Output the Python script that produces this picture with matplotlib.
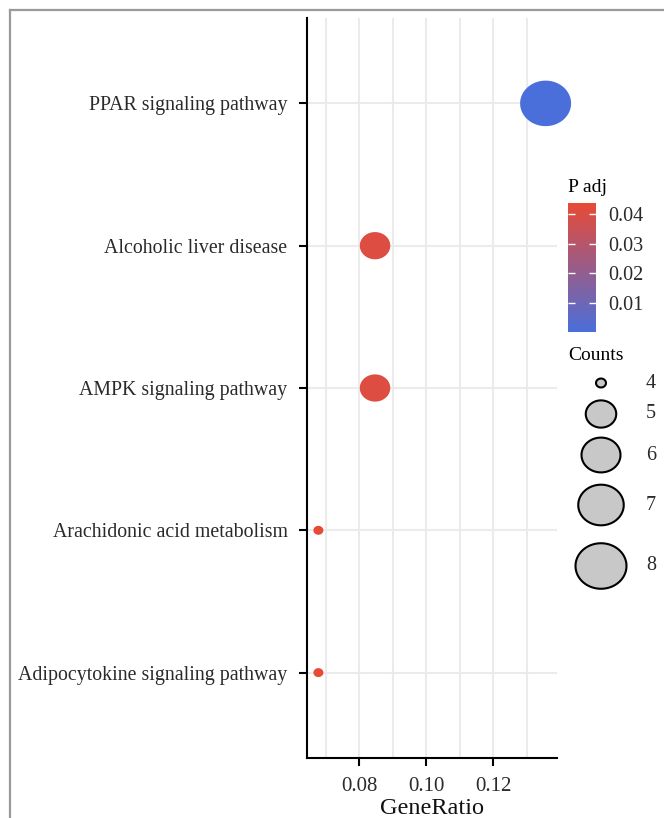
import numpy as np
import matplotlib
matplotlib.use("Agg")
import matplotlib.pyplot as plt
from matplotlib.path import Path
from matplotlib.markers import MarkerStyle
from matplotlib.colors import LinearSegmentedColormap, Normalize
from matplotlib.lines import Line2D
import matplotlib.cm as cm

# =============================================================================
# data
# =============================================================================
pathways = ["PPAR signaling pathway", "Alcoholic liver disease",
            "AMPK signaling pathway", "Arachidonic acid metabolism",
            "Adipocytokine signaling pathway"]
counts = [8, 5, 5, 4, 4]
gene_ratio = [0.1356, 0.0847, 0.0847, 0.0678, 0.0678]
p_adj = [0.0001, 0.0405, 0.0405, 0.0437, 0.0437]

size_breaks = [4, 5, 6, 7, 8]
cbar_ticks = [0.01, 0.02, 0.03, 0.04]
x_ticks = [0.08, 0.10, 0.12]
x_minor = [0.07, 0.09, 0.11, 0.13]

W, H, DPI = 664, 818, 100
PX = 72.0 / DPI  # points per pixel

plt.rcParams['font.family'] = ['Liberation Serif', 'DejaVu Serif']

cmap = LinearSegmentedColormap.from_list("padj", ["#4A6FDA", "#E84A36"])
norm = Normalize(vmin=min(p_adj), vmax=max(p_adj))

# slightly wide ellipse, the reference is stretched horizontally
t = np.linspace(0, 2*np.pi, 80)
ell = MarkerStyle(Path(np.column_stack([1.12*np.cos(t), np.sin(t)])))

cmin, cmax = min(size_breaks), max(size_breaks)
def marker_area(c, dmin=10, dmax=51):
    # ggplot-like area scale, diameter in pixels -> scatter area in pt^2
    d = dmin + (dmax - dmin)*np.sqrt((np.asarray(c) - cmin)/(cmax - cmin))
    return (d*PX)**2

fig = plt.figure(figsize=(W/DPI, H/DPI), dpi=DPI)
ax = fig.add_axes([307/W, 1-758/H, 250/W, 740/H])

ypos = np.arange(len(pathways))[::-1] + 1
ax.scatter(gene_ratio, ypos, s=marker_area(counts), c=p_adj, cmap=cmap, norm=norm,
           marker=ell, linewidths=0, zorder=3, clip_on=False)

ax.set_xlim(0.0644, 0.1390)
ax.set_ylim(0.4, len(pathways) + 0.6)
ax.set_yticks(ypos)
ax.set_yticklabels(pathways)
ax.set_xticks(x_ticks)
ax.set_xticklabels(["%.2f" % v for v in x_ticks])
ax.set_xticks(x_minor, minor=True)
ax.tick_params(axis='x', which='minor', length=0)
ax.grid(True, which='both', axis='x', color='#EBEBEB', lw=1.5, zorder=0)
ax.grid(True, which='major', axis='y', color='#EBEBEB', lw=1.5, zorder=0)
ax.set_axisbelow(True)
for s in ['top', 'right']:
    ax.spines[s].set_visible(False)
for s in ['left', 'bottom']:
    ax.spines[s].set_linewidth(1.5)
ax.tick_params(axis='both', which='major', length=6, width=1.5,
               labelcolor='#2a2a2a')
ax.tick_params(axis='x', labelsize=15, pad=8)
ax.tick_params(axis='y', labelsize=14.3, pad=8)
ax.set_xlabel("GeneRatio", fontsize=17.5, color='#111111', labelpad=1)

# =============================================================================
# colour legend
# =============================================================================
fig.text(568/W, 1-187/H, "P adj", fontsize=14, va='center', ha='left')
cax = fig.add_axes([568/W, 1-332/H, 28/W, 129/H])
cb = fig.colorbar(cm.ScalarMappable(norm=norm, cmap=cmap), cax=cax, ticks=cbar_ticks)
cb.outline.set_visible(False)
cax.tick_params(left=True, right=True, direction='in', length=5, width=1,
                color='white', labelsize=14.5, labelcolor='#2a2a2a', pad=9)
cax.set_yticklabels(["%.2f" % v for v in cbar_ticks])

# =============================================================================
# size legend (pixel coordinates)
# =============================================================================
fig.text(568/W, 1-356/H, "Counts", fontsize=14, va='center', ha='left')
lax = fig.add_axes([0, 0, 1, 1], facecolor='none')
lax.set_xlim(0, W)
lax.set_ylim(H, 0)
lax.axis('off')
leg_y = [383, 414, 455, 505, 566]
lax.scatter([601]*len(size_breaks), leg_y, s=marker_area(size_breaks), marker=ell,
            facecolor='#C8C8C8', edgecolor='black', linewidths=1.5)
for yy, b in zip(leg_y, size_breaks):
    lax.text(646, yy, str(b), fontsize=14.5, va='center', ha='left', color='#2a2a2a')

# grey frame of the screenshot
lax.add_line(Line2D([10, 10], [10, H], color='#9A9A9A', lw=1.6))
lax.add_line(Line2D([10, W], [10, 10], color='#9A9A9A', lw=1.6))

fig.savefig("out.png", dpi=DPI)
